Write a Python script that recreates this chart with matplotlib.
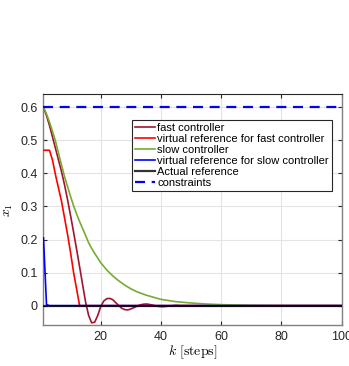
import matplotlib
matplotlib.use("Agg")
import matplotlib.pyplot as plt

# fast controller, one value per step k = 1..46, then flat to k = 100
k_fast = list(range(1, 47)) + [100]
x_fast = [0.600, 0.575, 0.545, 0.510, 0.475, 0.440, 0.405, 0.365, 0.320, 0.272,
          0.222, 0.170, 0.117, 0.063, 0.010, -0.030, -0.052, -0.050, -0.030, -0.003,
          0.014, 0.021, 0.022, 0.018, 0.009, 0.000, -0.008, -0.012, -0.013, -0.010,
          -0.006, -0.002, 0.002, 0.004, 0.005, 0.004, 0.002, 0.000, -0.002, -0.003,
          -0.003, -0.002, -0.001, 0.000, 0.001, 0.000, 0.000]

# virtual reference for the fast controller
k_vref_fast = [1, 2, 3, 4, 5, 6, 7, 8, 9, 10, 11, 12, 13, 100]
x_vref_fast = [0.470, 0.470, 0.470, 0.440, 0.395, 0.355, 0.315, 0.265, 0.215, 0.160,
               0.100, 0.050, 0.000, 0.000]

# slow controller
k_slow = [1, 2, 3, 4, 5, 6, 7, 8, 9, 10, 11, 12, 13, 14, 15, 16, 17, 18, 19, 20,
          22, 24, 26, 28, 30, 32, 35, 40, 45, 50, 55, 60, 70, 80, 100]
x_slow = [0.600, 0.580, 0.555, 0.527, 0.497, 0.460, 0.425, 0.390, 0.360, 0.330,
          0.302, 0.277, 0.254, 0.233, 0.212, 0.190, 0.173, 0.158, 0.144, 0.130,
          0.108, 0.090, 0.075, 0.062, 0.051, 0.042, 0.032, 0.019, 0.012, 0.008,
          0.005, 0.003, 0.001, 0.000, 0.000]

# virtual reference for the slow controller
k_vref_slow = [1, 2, 3, 100]
x_vref_slow = [0.205, 0.003, 0.000, 0.000]

# actual reference and constraint
k_ref = [1, 100]
x_ref = [0.0, 0.0]
x_con = [0.6, 0.6]

plt.rcParams['font.family'] = ['Liberation Sans', 'DejaVu Sans']
plt.rcParams['mathtext.fontset'] = 'cm'

fig = plt.figure(figsize=(3.49, 3.66), dpi=100)
ax = fig.add_axes([0.1246, 0.1107, 0.8544, 0.6323])

ax.plot(k_fast, x_fast, color='#A2142F', lw=1.2, label='fast controller', zorder=3)
ax.plot(k_vref_fast, x_vref_fast, color='#FF0000', lw=1.2,
        label='virtual reference for fast controller', zorder=3)
ax.plot(k_slow, x_slow, color='#77AC30', lw=1.2, label='slow controller', zorder=3)
ax.plot(k_vref_slow, x_vref_slow, color='#0000FF', lw=1.2,
        label='virtual reference for slow controller', zorder=3)
ax.plot(k_ref, x_ref, color='black', alpha=0.8, lw=1.6, label='Actual reference', zorder=4)
ax.plot(k_ref, x_con, color='#0000FF', lw=1.6, ls=(0, (4.5, 3)),
        label='constraints', zorder=4)

ax.set_xlim(1, 100)
ax.set_ylim(-0.06, 0.64)
ax.set_xticks([20, 40, 60, 80, 100])
ax.set_yticks([0, 0.1, 0.2, 0.3, 0.4, 0.5, 0.6])
ax.set_yticklabels(['0', '0.1', '0.2', '0.3', '0.4', '0.5', '0.6'])
ax.grid(True, color='#e3e3e3', lw=0.8)
ax.set_axisbelow(True)
ax.tick_params(direction='in', top=True, right=True, length=3, labelsize=9,
               colors='#262626', pad=4)
for side in ['left', 'bottom', 'right']:
    ax.spines[side].set_color('#808080')
    ax.spines[side].set_linewidth(1.0)
ax.spines['top'].set_color('#262626')
ax.spines['top'].set_linewidth(0.8)

ax.set_xlabel(r'$k\ \mathrm{[steps]}$', fontsize=10, labelpad=0)
ax.set_ylabel(r'$x_1$', fontsize=10, labelpad=4)

leg = ax.legend(loc='upper right', bbox_to_anchor=(0.967, 0.888), borderaxespad=0,
                fontsize=8, labelspacing=0.1, handlelength=1.8, handletextpad=0.2,
                borderpad=0.25, fancybox=False, framealpha=1, edgecolor='#262626')
leg.get_frame().set_linewidth(0.8)

fig.savefig('out.png', dpi=100)
